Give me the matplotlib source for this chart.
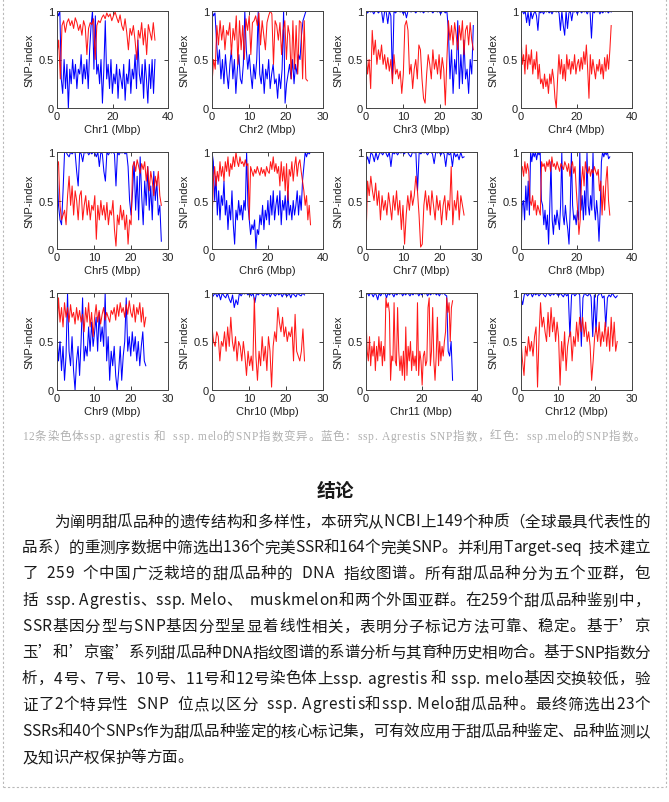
import numpy as np
import matplotlib
matplotlib.use('Agg')
import matplotlib.pyplot as plt
from matplotlib.lines import Line2D

# chromosome lengths (Mbp), x-axis limits and ticks
chrom_len = [35.3, 25.8, 29.0, 32.5, 28.2, 35.5, 26.5, 32.0, 24.0, 25.0, 31.2, 26.0]
xlims = [40, 30, 30, 40, 30, 40, 30, 40, 30, 30, 40, 30]

# SNP-index, ssp. agrestis (blue)
chr1_blue = [1.00, 0.95, 1.00, 0.30, 0.15, 0.50, 0.20, 0.45, 0.00, 0.40,
             0.25, 0.50, 0.30, 0.45, 0.20, 0.40, 0.35, 0.55, 0.25, 0.45,
             0.30, 0.50, 0.20, 0.60, 0.85, 1.00, 0.40, 0.95, 0.35, 0.45,
             0.25, 0.50, 0.05, 0.40, 0.90, 0.30, 0.45, 0.20, 0.50, 0.15,
             0.35, 0.25, 0.45, 0.10, 0.40, 0.30, 0.20, 0.45, 0.08, 0.35,
             0.25, 0.50, 0.15, 0.40, 0.30, 0.55, 0.20, 0.70, 0.35, 0.25,
             0.45, 0.10, 0.50, 0.30, 0.05, 0.45, 0.20, 0.50, 0.15, 0.50]
chr2_blue = [1.00, 0.95, 0.98, 0.70, 0.45, 0.60, 0.30, 0.50, 0.25, 0.55,
             0.35, 0.20, 0.45, 0.60, 0.30, 0.50, 0.15, 0.40, 0.55, 0.30,
             0.25, 0.45, 1.00, 0.60, 0.40, 0.55, 0.35, 0.20, 0.45, 0.30,
             0.50, 1.00, 0.35, 0.25, 0.45, 0.15, 0.40, 0.30, 0.50, 0.20,
             0.35, 0.45, 0.25, 0.30, 0.10, 0.35, 0.20, 0.40, 1.00, 0.05,
             0.25, 0.35, 0.45, 0.30, 0.50, 0.25, 0.45, 0.35, 0.55, 0.50,
             0.75, 0.90, 0.95, 1.00, 1.00]
chr3_blue = [1.00, 0.98, 1.00, 0.99, 1.00, 0.97, 1.00, 1.00, 0.98, 1.00,
             1.00, 0.88, 1.00, 0.99, 0.87, 1.00, 0.95, 0.30, 1.00, 0.98,
             1.00, 1.00, 0.99, 1.00, 0.97, 1.00, 0.93, 1.00, 1.00, 0.99,
             1.00, 1.00, 0.98, 1.00, 1.00, 0.99, 1.00, 0.98, 1.00, 1.00,
             0.99, 1.00, 1.00, 0.98, 1.00, 1.00, 0.99, 1.00, 0.97, 1.00,
             1.00, 0.98, 1.00, 0.80, 0.30, 0.60, 0.15, 0.50, 0.35, 0.90,
             0.20, 0.55, 0.25, 0.70, 0.30, 0.40, 0.15, 0.50, 0.35, 0.85]
chr4_blue = [0.98, 1.00, 0.97, 1.00, 0.88, 0.99, 0.85, 1.00, 0.92, 0.97,
             1.00, 0.95, 0.80, 1.00, 0.98, 1.00, 0.97, 1.00, 0.99, 1.00,
             0.98, 1.00, 0.97, 1.00, 1.00, 0.99, 1.00, 0.98, 0.80, 1.00,
             0.85, 0.75, 1.00, 0.82, 0.98, 1.00, 0.90, 1.00, 0.99, 1.00,
             0.97, 1.00, 1.00, 0.98, 1.00, 0.99, 1.00, 0.97, 1.00, 1.00,
             0.72, 1.00, 0.98, 1.00, 0.99, 1.00, 0.97, 1.00, 0.98, 1.00,
             0.99, 1.00, 0.98, 1.00, 0.99]
chr5_blue = [0.85, 0.45, 0.30, 0.25, 0.60, 1.00, 1.00, 0.97, 0.95, 1.00,
             0.98, 1.00, 0.99, 0.80, 0.65, 1.00, 0.98, 0.90, 1.00, 0.99,
             1.00, 0.97, 1.00, 0.98, 1.00, 0.99, 0.95, 1.00, 0.85, 1.00,
             0.98, 0.80, 0.70, 1.00, 0.97, 1.00, 0.99, 1.00, 0.98, 0.65,
             1.00, 0.97, 1.00, 0.99, 1.00, 0.98, 1.00, 0.85, 0.50, 0.35,
             0.60, 0.90, 0.40, 0.75, 0.30, 0.95, 0.55, 0.25, 0.70, 0.45,
             0.85, 0.40, 0.65, 0.30, 0.80, 0.50, 0.70, 0.35, 0.45, 0.08]
chr6_blue = [1.00, 0.90, 0.50, 0.75, 0.35, 0.60, 0.30, 0.55, 0.45, 0.70,
             0.35, 0.50, 0.20, 0.45, 0.30, 0.60, 0.25, 0.05, 0.40, 0.30,
             0.50, 0.35, 0.45, 0.30, 0.50, 0.40, 1.00, 0.45, 0.30, 0.15,
             0.25, 0.20, 0.30, 0.00, 0.20, 0.15, 0.35, 0.25, 0.45, 0.20,
             0.40, 0.30, 0.50, 0.25, 0.55, 0.35, 0.60, 0.30, 0.45, 0.55,
             0.35, 0.60, 0.25, 0.50, 0.40, 0.55, 0.30, 0.60, 0.35, 0.45,
             0.30, 0.50, 0.35, 0.45, 0.60, 0.35, 0.55, 0.40, 0.70, 0.85,
             1.00, 0.95, 1.00, 0.98, 1.00]
chr7_blue = [0.90, 0.95, 0.88, 1.00, 0.97, 0.90, 1.00, 0.92, 0.98, 1.00,
             0.97, 1.00, 0.99, 0.95, 1.00, 0.85, 1.00, 0.98, 1.00, 0.97,
             1.00, 0.99, 1.00, 0.98, 1.00, 1.00, 0.97, 0.95, 1.00, 0.99,
             1.00, 0.60, 1.00, 0.98, 1.00, 0.99, 1.00, 0.97, 1.00, 1.00,
             0.98, 0.88, 1.00, 0.99, 1.00, 0.97, 1.00, 0.98, 0.85, 1.00,
             0.97, 0.99, 0.85, 1.00, 0.95, 0.98, 0.92, 1.00, 0.94, 0.95]
chr8_blue = [0.15, 0.45, 0.50, 0.30, 0.65, 0.40, 0.70, 0.35, 1.00, 0.90,
             1.00, 0.95, 1.00, 0.92, 1.00, 0.97, 1.00, 0.50, 0.45, 0.25,
             0.40, 0.20, 0.35, 0.05, 0.45, 0.90, 0.30, 0.15, 0.35, 0.25,
             0.40, 0.30, 0.20, 0.45, 1.00, 0.35, 0.25, 0.45, 0.30, 0.20,
             0.05, 0.40, 1.00, 0.45, 0.30, 0.35, 0.25, 0.40, 0.30, 1.00,
             0.40, 0.55, 0.30, 0.60, 0.35, 1.00, 0.45, 0.35, 0.55, 0.40,
             1.00, 0.45, 0.30, 0.50, 0.35, 0.08, 0.40, 0.90, 1.00, 0.95,
             1.00, 0.97, 1.00, 0.93, 0.95]
chr9_blue = [0.55, 0.30, 0.50, 0.20, 0.45, 0.10, 0.35, 1.00, 0.40, 0.25,
             0.55, 0.20, 0.00, 0.30, 0.45, 0.15, 0.50, 0.95, 0.30, 0.45,
             0.35, 0.65, 0.40, 0.70, 0.45, 0.60, 0.75, 0.40, 0.80, 0.50,
             0.65, 0.45, 1.00, 0.30, 0.55, 0.10, 0.40, 0.25, 0.45, 0.15,
             0.00, 0.20, 0.45, 0.10, 0.35, 0.50, 0.95, 0.40, 0.55, 0.35,
             0.60, 0.40, 0.55, 0.30, 0.50, 0.25, 0.45, 0.60, 0.30, 0.25]
chr10_blue = [0.95, 0.98, 1.00, 0.96, 1.00, 0.93, 1.00, 0.97, 0.95, 1.00,
              0.94, 0.90, 0.98, 0.85, 0.93, 0.88, 1.00, 0.97, 1.00, 0.99,
              1.00, 0.98, 1.00, 0.97, 1.00, 0.90, 1.00, 0.98, 1.00, 0.99,
              0.97, 1.00, 0.98, 1.00, 0.96, 1.00, 0.99, 0.97, 1.00, 0.98,
              1.00, 0.96, 1.00, 0.98, 0.97, 1.00, 0.95, 1.00, 0.98, 0.96,
              1.00, 0.98, 0.97, 1.00, 0.98]
chr11_blue = [0.98, 1.00, 0.97, 1.00, 0.99, 0.96, 1.00, 0.98, 0.93, 1.00,
              0.97, 1.00, 0.99, 1.00, 0.95, 1.00, 0.98, 1.00, 0.99, 0.96,
              1.00, 0.98, 1.00, 0.99, 1.00, 0.97, 1.00, 0.98, 1.00, 0.99,
              0.97, 1.00, 0.98, 1.00, 0.99, 1.00, 0.97, 1.00, 0.98, 1.00,
              0.99, 1.00, 0.97, 1.00, 0.98, 1.00, 0.99, 1.00, 0.98, 1.00,
              0.97, 1.00, 0.99, 1.00, 0.98, 0.97, 0.40, 0.35, 0.50, 0.10]
chr12_blue = [0.95, 0.88, 0.98, 1.00, 0.97, 0.99, 1.00, 0.96, 1.00, 0.98,
              1.00, 0.97, 0.99, 1.00, 0.98, 0.96, 1.00, 0.99, 0.97, 1.00,
              0.98, 1.00, 0.99, 0.97, 1.00, 0.98, 0.96, 1.00, 0.97, 0.99,
              0.55, 0.98, 1.00, 0.97, 0.99, 1.00, 0.98, 0.45, 0.95, 1.00,
              0.98, 0.97, 1.00, 0.96, 0.55, 0.98, 0.60, 0.97, 0.99, 1.00,
              0.95, 0.97, 0.65, 0.95, 0.98, 0.96, 1.00, 0.97, 0.95, 0.97]

# SNP-index, ssp. melo (red)
chr1_red = [0.55, 0.70, 0.30, 0.85, 0.90, 0.78, 0.88, 0.92, 0.85, 0.90,
            0.82, 0.93, 0.88, 0.80, 0.86, 0.75, 0.90, 0.84, 0.55, 0.82,
            0.88, 0.86, 0.92, 0.50, 0.85, 0.90, 0.88, 0.93, 0.96, 0.92,
            0.98, 0.94, 0.97, 0.90, 0.95, 0.99, 0.93, 0.88, 0.96, 0.85,
            0.80, 0.92, 0.78, 0.60, 0.82, 0.75, 0.85, 0.70, 0.50, 0.80,
            0.72, 0.88, 0.65, 0.82, 0.55, 0.86, 0.78, 0.70, 0.88, 0.70]
chr2_red = [0.25, 0.50, 0.40, 0.85, 0.65, 0.90, 0.70, 0.85, 0.60, 0.80,
            0.75, 0.88, 0.55, 0.82, 0.70, 0.95, 0.45, 0.90, 0.60, 0.85,
            0.50, 0.92, 0.80, 0.95, 0.55, 0.88, 0.90, 0.95, 0.85, 0.98,
            0.65, 0.90, 0.75, 0.60, 0.88, 0.95, 1.00, 0.97, 0.45, 0.90,
            0.85, 0.70, 0.88, 0.55, 0.80, 0.90, 0.50, 0.85, 0.75, 0.30,
            0.90, 0.40, 0.85, 0.35, 0.90, 0.88, 0.30, 0.90, 0.30, 0.28]
chr3_red = [0.60, 0.35, 0.50, 0.20, 0.80, 0.55, 0.70, 0.45, 0.60, 0.50,
            0.65, 0.45, 0.55, 0.40, 0.52, 0.38, 0.50, 0.25, 0.55, 0.35,
            0.40, 0.30, 0.38, 0.15, 0.35, 0.85, 0.90, 0.80, 0.35, 0.45,
            0.20, 0.40, 0.50, 0.30, 0.65, 0.60, 0.30, 0.10, 0.05, 0.35,
            0.55, 0.45, 0.30, 0.60, 0.40, 0.50, 0.35, 0.55, 0.30, 0.52,
            0.40, 0.03, 0.50, 0.90, 0.70, 0.85, 0.65, 0.88, 0.75, 0.60,
            0.85, 0.70, 0.90, 0.55, 0.80, 0.85, 0.65, 0.88, 0.70, 0.60]
chr4_red = [0.75, 0.45, 0.55, 0.35, 0.65, 0.40, 0.55, 0.45, 0.60, 0.35,
            0.50, 0.40, 0.58, 0.30, 0.45, 0.25, 0.30, 0.20, 0.35, 0.22,
            0.30, 0.15, 0.35, 0.25, 0.40, 0.30, 0.10, 0.00, 0.30, 0.55,
            0.35, 0.50, 0.30, 0.45, 0.28, 0.55, 0.40, 0.50, 0.35, 0.48,
            0.40, 0.55, 0.35, 0.45, 0.50, 0.38, 0.52, 0.40, 0.58, 0.45,
            0.65, 0.40, 0.10, 0.55, 0.35, 0.50, 0.40, 0.30, 0.45, 0.38,
            0.50, 0.35, 0.45, 0.30, 0.52, 0.38, 0.55, 0.40, 0.60, 0.85]
chr5_red = [0.85, 0.90, 0.45, 0.30, 0.35, 0.40, 0.25, 0.55, 0.75, 0.45,
            0.65, 0.35, 0.60, 0.50, 0.30, 0.55, 0.60, 0.30, 0.45, 0.55,
            0.35, 0.50, 0.30, 0.45, 0.40, 0.55, 0.10, 0.45, 0.30, 0.50,
            0.35, 0.45, 0.30, 0.48, 0.25, 0.40, 0.35, 0.50, 0.20, 0.03,
            0.35, 0.25, 0.45, 0.30, 0.40, 0.20, 0.35, 0.05, 0.30, 0.25,
            0.85, 0.90, 0.80, 0.92, 0.85, 0.78, 0.88, 0.82, 0.90, 0.70,
            0.85, 0.60, 0.80, 0.70, 0.55, 0.75, 0.65, 0.80, 0.55, 0.45]
chr6_red = [0.25, 0.70, 0.85, 0.65, 0.80, 0.70, 0.90, 0.75, 0.85, 0.70,
            0.90, 0.80, 0.95, 0.75, 0.88, 0.82, 0.95, 0.85, 1.00, 0.90,
            0.85, 0.95, 0.88, 0.90, 0.85, 0.92, 0.86, 0.88, 0.30, 0.85,
            0.80, 0.75, 0.82, 0.78, 0.85, 0.80, 0.76, 0.84, 0.78, 0.82,
            0.75, 0.85, 0.80, 0.78, 0.90, 0.82, 0.95, 0.80, 0.88, 0.78,
            0.85, 0.65, 0.90, 0.70, 0.85, 0.60, 0.88, 0.50, 0.82, 0.75,
            0.90, 0.70, 0.85, 0.95, 0.75, 0.88, 0.92, 0.80, 0.70, 0.60,
            0.45, 0.55, 0.30, 0.45, 0.25]
chr7_red = [0.10, 0.70, 0.55, 0.75, 0.60, 0.50, 0.68, 0.45, 0.60, 0.30,
            0.55, 0.40, 0.50, 0.35, 0.58, 0.45, 0.30, 0.55, 0.40, 0.60,
            0.35, 0.50, 0.20, 0.45, 0.05, 0.35, 0.55, 0.40, 0.60, 0.45,
            0.55, 0.75, 0.60, 0.35, 0.02, 0.05, 0.45, 0.60, 0.40, 0.55,
            0.35, 0.60, 0.45, 0.30, 0.55, 0.40, 0.50, 0.25, 0.45, 0.55,
            0.30, 0.50, 0.40, 0.85, 0.25, 0.50, 0.40, 0.60, 0.30, 0.55,
            0.45, 0.35]
chr8_red = [0.80, 0.85, 0.75, 0.90, 0.78, 0.88, 0.80, 0.50, 0.45, 0.55,
            0.40, 0.50, 0.35, 0.45, 0.40, 0.35, 0.90, 0.85, 0.88, 0.80,
            0.90, 0.85, 0.92, 0.80, 0.95, 0.85, 0.88, 0.82, 0.90, 0.85,
            0.80, 0.88, 0.85, 0.82, 0.90, 0.86, 0.80, 0.88, 0.75, 0.85,
            0.90, 0.78, 0.85, 0.60, 0.40, 0.15, 0.30, 0.70, 0.85, 0.65,
            0.90, 0.80, 0.78, 0.85, 0.75, 0.82, 0.78, 0.85, 0.80, 0.76,
            0.82, 0.60, 0.70, 0.35, 0.65, 0.40, 0.70, 0.85, 0.50, 0.35]
chr9_red = [0.60, 0.95, 0.70, 0.85, 0.65, 0.90, 0.75, 0.85, 0.70, 0.88,
            0.75, 0.80, 0.68, 0.85, 0.72, 0.82, 0.70, 0.78, 0.60, 0.85,
            0.70, 0.90, 0.65, 0.80, 0.55, 0.75, 0.88, 0.70, 0.82, 0.68,
            0.78, 0.85, 0.72, 0.80, 0.75, 0.70, 0.82, 0.78, 0.85, 0.72,
            0.88, 0.76, 0.90, 0.80, 0.85, 0.75, 0.88, 0.78, 0.92, 0.80,
            0.75, 0.88, 0.70, 0.85, 0.78, 0.90, 0.70, 0.85, 0.65, 0.75]
chr10_red = [0.65, 0.50, 0.45, 0.60, 0.55, 0.30, 0.50, 0.45, 0.60, 0.40,
             0.65, 0.45, 0.75, 0.50, 0.40, 0.55, 0.30, 0.50, 0.45, 0.30,
             0.50, 0.35, 0.15, 0.40, 0.25, 0.35, 0.20, 0.95, 0.35, 0.10,
             0.40, 0.25, 0.55, 0.30, 0.45, 0.20, 0.55, 0.40, 0.03, 0.45,
             0.60, 0.50, 0.85, 0.70, 0.60, 0.75, 0.55, 0.65, 0.50, 0.60,
             0.55, 0.65, 0.30, 0.78, 0.40, 0.35, 0.30, 0.40, 0.63, 0.30]
chr11_red = [0.75, 0.40, 0.30, 0.55, 0.25, 0.45, 0.35, 0.50, 0.20, 0.45,
             0.30, 0.55, 0.35, 0.50, 0.25, 0.45, 0.30, 0.95, 0.85, 0.90,
             0.80, 0.10, 0.35, 0.30, 0.90, 0.30, 0.25, 0.85, 0.40, 0.20,
             0.35, 0.15, 0.40, 0.10, 0.65, 0.15, 0.45, 0.30, 0.50, 0.20,
             0.40, 0.25, 0.35, 0.20, 0.90, 0.15, 0.40, 0.30, 0.05, 0.35,
             0.40, 0.25, 0.30, 0.85, 0.95, 0.25, 0.40, 0.85, 0.30, 0.10,
             0.35, 0.75, 0.25, 0.50, 0.30, 0.45, 0.35, 0.50, 0.60, 0.95,
             0.80, 0.90, 0.50, 0.85, 0.92]
chr12_red = [0.50, 0.30, 0.15, 0.45, 0.35, 0.55, 0.40, 0.50, 0.35, 0.55,
             0.65, 0.03, 0.55, 0.90, 0.65, 0.75, 0.60, 0.50, 0.80, 0.55,
             0.85, 0.60, 0.75, 0.50, 0.70, 0.55, 0.05, 0.50, 0.30, 0.60,
             0.20, 0.45, 0.55, 0.60, 0.30, 0.55, 0.45, 0.70, 0.50, 0.75,
             0.60, 0.75, 0.55, 0.70, 0.50, 0.60, 0.45, 0.10, 0.30, 0.55,
             0.65, 0.50, 0.70, 0.45, 0.60, 0.50, 0.70, 0.45, 0.65, 0.40,
             0.75, 0.45, 0.70, 0.40, 0.50]

blue = [chr1_blue, chr2_blue, chr3_blue, chr4_blue, chr5_blue, chr6_blue,
        chr7_blue, chr8_blue, chr9_blue, chr10_blue, chr11_blue, chr12_blue]
red = [chr1_red, chr2_red, chr3_red, chr4_red, chr5_red, chr6_red,
       chr7_red, chr8_red, chr9_red, chr10_red, chr11_red, chr12_red]

caption = '12条染色体ssp. agrestis 和  ssp. melo的SNP指数变异。蓝色：ssp. Agrestis SNP指数，红色：ssp.melo的SNP指数。'
heading = '结论'
body = [
    '为阐明甜瓜品种的遗传结构和多样性，本研究从NCBI上149个种质（全球最具代表性的',
    '品系）的重测序数据中筛选出136个完美SSR和164个完美SNP。并利用Target-seq  技术建立',
    '了  259  个中国广泛栽培的甜瓜品种的  DNA  指纹图谱。所有甜瓜品种分为五个亚群，包',
    '括  ssp. Agrestis、ssp. Melo、  muskmelon和两个外国亚群。在259个甜瓜品种鉴别中，',
    'SSR基因分型与SNP基因分型呈显着线性相关，表明分子标记方法可靠、稳定。基于’京',
    '玉’和’京蜜’系列甜瓜品种DNA指纹图谱的系谱分析与其育种历史相吻合。基于SNP指数分',
    '析，4号、7号、10号、11号和12号染色体上ssp. agrestis 和 ssp. melo基因交换较低，验',
    '证了2个特异性  SNP  位点以区分  ssp. Agrestis和ssp. Melo甜瓜品种。最终筛选出23个',
    'SSRs和40个SNPs作为甜瓜品种鉴定的核心标记集，可有效应用于甜瓜品种鉴定、品种监测以',
    '及知识产权保护等方面。',
]

W, H = 669, 803
fig = plt.figure(figsize=(W / 100, H / 100), dpi=100)
fig.patch.set_facecolor('white')

col_left = [57, 212, 366, 521]
row_top = [12, 153, 294]
aw, ah = 111, 97

for k in range(12):
    r, c = divmod(k, 4)
    ax = fig.add_axes([col_left[c] / W, 1 - (row_top[r] + ah) / H, aw / W, ah / H])
    xb = np.linspace(0, chrom_len[k], len(blue[k]))
    xr = np.linspace(0, chrom_len[k], len(red[k]))
    ax.plot(xb, blue[k], color='#0000ff', lw=0.75)
    ax.plot(xr, red[k], color='#ff0000', lw=0.75, alpha=0.9)
    ax.set_xlim(0, xlims[k])
    ax.set_ylim(0, 1)
    step = 20 if xlims[k] == 40 else 10
    ax.set_xticks(np.arange(0, xlims[k] + 1, step))
    ax.set_yticks([0, 0.5, 1])
    ax.set_yticklabels(['0', '0.5', '1'])
    ax.tick_params(direction='in', length=3, width=0.6, top=True, right=True,
                   labelsize=8, pad=2, colors='#222222')
    for lab in ax.get_xticklabels() + ax.get_yticklabels():
        lab.set_family('Liberation Sans')
    for sp in ax.spines.values():
        sp.set_color('#444444')
        sp.set_linewidth(0.7)
    ax.set_ylabel('SNP-index', fontsize=8, family='Liberation Sans', labelpad=3, color='#222222')
    ax.set_xlabel('Chr%d (Mbp)' % (k + 1), fontsize=8, family='Liberation Sans', labelpad=2, color='#222222')

rend = fig.canvas.get_renderer()
_cache = {}


def text_w(s, size, family, weight):
    key = (s, size, tuple(family), weight)
    if key not in _cache:
        t = fig.text(0, 0, s, fontsize=size, family=family, weight=weight)
        _cache[key] = t.get_window_extent(rend).width
        t.remove()
    return _cache[key]


def put_line(s, x0, x1, y, size, color, family, weight='normal', justify=True):
    base = text_w('国国', size, family, weight)
    widths = [text_w('国' + ch + '国', size, family, weight) - base for ch in s]
    gap = 0
    if justify and len(s) > 1:
        gap = (x1 - x0 - sum(widths)) / (len(s) - 1)
    x = x0
    for ch, w in zip(s, widths):
        if ch != ' ':
            fig.text(x / W, 1 - y / H, ch, fontsize=size, family=family, weight=weight,
                     color=color, va='center', ha='left')
        x += w + gap


cap_font = ['Liberation Serif', 'Noto Sans CJK SC']
body_font = ['Noto Sans CJK SC', 'DejaVu Sans']

put_line(caption, 22, 645, 437, 8.3, '#b0b0b0', cap_font)
fig.text(335 / W, 1 - 492 / H, heading, fontsize=13.5, family=body_font, weight='bold',
         color='#1a1a1a', ha='center', va='center')

line_y = [522, 548, 574, 601, 627, 653, 679, 705, 732, 758]
for i, s in enumerate(body):
    x0 = 54 if i == 0 else 22
    put_line(s, x0, 650, line_y[i], 11.2, '#1a1a1a', body_font, justify=(i < len(body) - 1))

# dashed page border
bc = '#b8b8b8'
fig.add_artist(Line2D([3 / W, 3 / W], [1, 1 - 788 / H], transform=fig.transFigure,
                      color=bc, lw=0.8, ls=(0, (2, 2))))
fig.add_artist(Line2D([666 / W, 666 / W], [1, 1 - 788 / H], transform=fig.transFigure,
                      color=bc, lw=0.8, ls=(0, (2, 2))))
fig.add_artist(Line2D([3 / W, 666 / W], [1 - 788 / H, 1 - 788 / H], transform=fig.transFigure,
                      color=bc, lw=0.8, ls=(0, (2, 2))))

fig.savefig('out.png', dpi=100, facecolor='white')
